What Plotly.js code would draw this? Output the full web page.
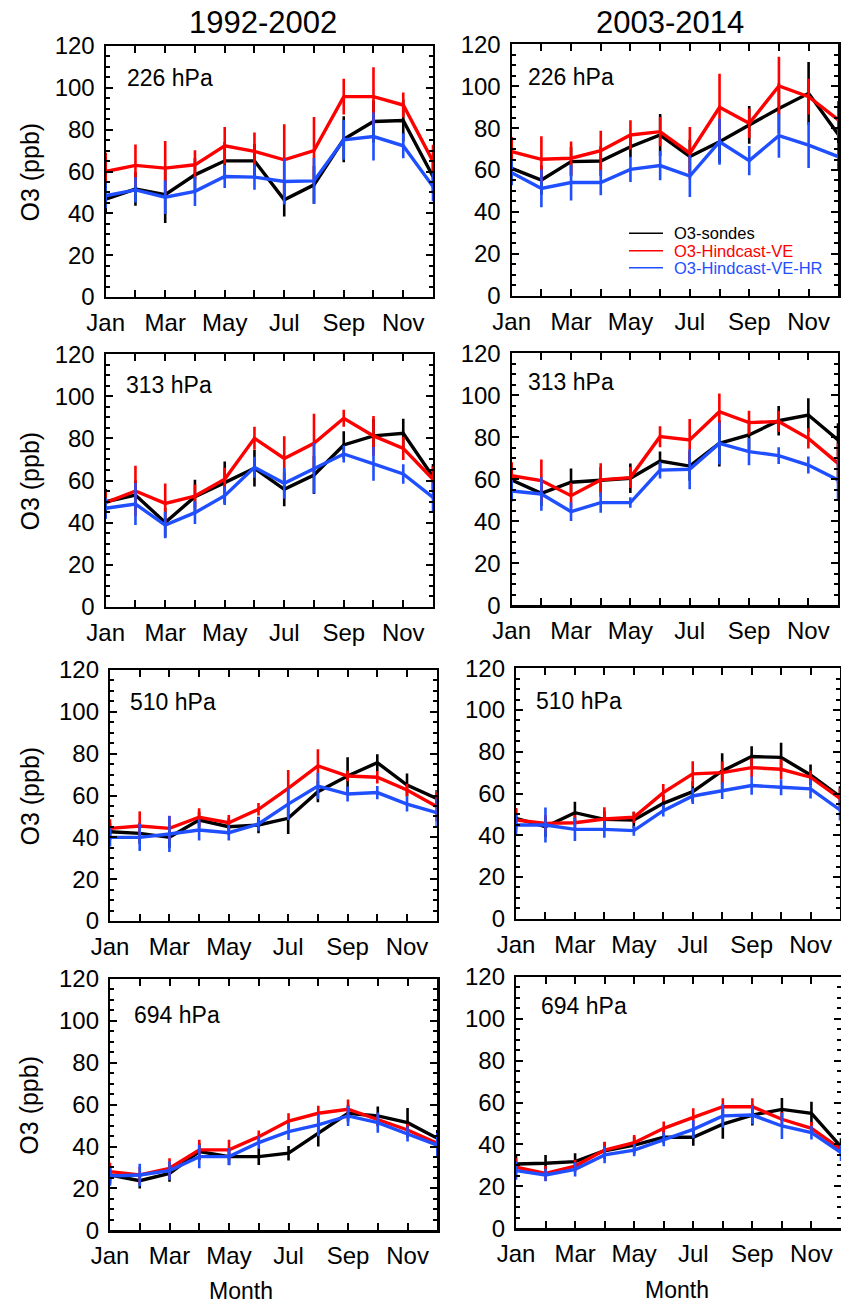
<!DOCTYPE html>
<html>
<head>
<meta charset="utf-8">
<script src="https://cdn.plot.ly/plotly-3.0.1.min.js"></script>
<style>html,body{margin:0;padding:0;background:#fff;}#chart{width:841px;height:1303px;}</style>
</head>
<body>
<div id="chart"></div>
<script>
// ---------------- DATA ----------------
const MONTHS = [1,2,3,4,5,6,7,8,9,10,11,12];
const TICK_POS = [1,3,5,7,9,11];
const TICK_LABELS = ['Jan','Mar','May','Jul','Sep','Nov'];
const PERIODS = ['1992-2002','2003-2014'];
const LEVELS = ['226 hPa','313 hPa','510 hPa','694 hPa'];
const SERIES_NAMES = ['O3-sondes','O3-Hindcast-VE','O3-Hindcast-VE-HR'];

// 226 hPa, 1992-2002
const p226a_sondes     = [46.8,51.6,48.9,58.4,65.1,65.1,46.5,53.6,75.4,83.9,84.4,57.6];
const p226a_sondes_err = [7,8,13.5,8,9,8,8,9,11,10,10,8];
const p226a_ve         = [60.0,62.9,61.6,63.2,72.3,69.6,65.6,70.0,95.8,95.8,91.8,64.8];
const p226a_ve_err     = [9,10,13,7,9,9,17,16,8.5,14,6,8];
const p226a_hr         = [48.4,51.2,47.7,50.5,57.6,57.3,55.2,55.5,75.1,76.7,72.3,52.8];
const p226a_hr_err     = [6,6,8,7,5.5,6,11,11,9.5,11.5,6,7];
// 226 hPa, 2003-2014
const p226b_sondes     = [60.8,55.2,64.0,64.3,71.1,76.7,66.4,73.5,81.5,89.4,96.6,77.0];
const p226b_sondes_err = [7,7,7,7,5,10,8,10,9,12,15,9];
const p226b_ve         = [68.8,65.1,65.6,69.2,76.7,78.3,68.0,89.9,82.3,100.1,95.0,83.9];
const p226b_ve_err     = [7,11,8,9.5,7,7,12.5,16,7,14,8.5,9];
const p226b_hr         = [58.7,51.2,54.0,54.0,60.3,62.1,57.1,73.5,64.5,76.4,71.9,66.4];
const p226b_hr_err     = [6,9,8.5,6,6,7,10,11,7,10.5,11,6.5];
// 313 hPa, 1992-2002
const p313a_sondes     = [49.9,53.1,40.0,52.3,59.0,65.8,55.8,62.6,76.9,81.2,82.4,61.8];
const p313a_sondes_err = [6,7,7,8,10,8.7,8,9,6.5,8,7,6];
const p313a_ve         = [49.5,55.0,49.1,52.6,60.6,80.1,70.5,77.7,89.6,81.2,75.3,60.6];
const p313a_ve_err     = [6,12,9.5,5.5,5.5,5.5,10.5,14,4,9.5,5.5,6];
const p313a_hr         = [46.8,48.8,38.8,44.7,52.8,66.3,58.7,65.8,72.6,67.9,63.1,52.0];
const p313a_hr_err     = [5,10,6.3,5.4,4.4,5,7.4,12,4,8,4.6,7];
// 313 hPa, 2003-2014
const p313b_sondes     = [59.7,53.3,58.6,59.7,60.5,68.7,66.3,77.1,81.1,87.9,90.6,78.7];
const p313b_sondes_err = [5,6,6.6,6,7,4.5,7,11,7,7,8,8];
const p313b_ve         = [61.7,59.4,52.2,59.7,60.8,80.3,78.7,92.2,87.0,87.5,79.5,67.6];
const p313b_ve_err     = [6.4,10,6,8,5,5,10,8.7,5.7,5,4.8,9.5];
const p313b_hr         = [54.4,53.0,44.6,48.9,48.9,64.4,64.8,77.1,73.2,71.3,66.8,59.7];
const p313b_hr_err     = [5,8,4.5,4.8,2.5,4,9.5,10,6.5,4,4,9.7];
// 510 hPa, 1992-2002
const p510a_sondes     = [42.7,41.9,40.0,48.3,45.1,45.9,49.1,61.8,69.3,75.7,65.0,58.6];
const p510a_sondes_err = [4,5,5,4,4,4,7.5,5,9,4,5.5,4];
const p510a_ve         = [44.3,45.4,44.3,49.6,47.0,53.4,63.4,74.1,69.3,68.7,62.6,54.7];
const p510a_ve_err     = [4.3,7,6,4.3,3.7,3,8.8,8,2.5,3,3,7];
const p510a_hr         = [40.0,40.0,41.6,43.5,42.2,46.4,55.9,64.5,60.7,61.4,55.9,51.8];
const p510a_hr_err     = [4.4,6.5,8.6,5,3.7,3.2,7.6,6.2,3.6,3.2,3.6,6.8];
// 510 hPa, 2003-2014
const p510b_sondes     = [48.1,44.1,50.8,47.6,47.3,55.3,60.9,70.8,77.7,77.3,68.9,58.5];
const p510b_sondes_err = [5,5,5.3,4,4,4,5,8.5,5,7,5,5];
const p510b_ve         = [47.3,45.7,46.0,47.8,48.6,60.4,69.4,70.0,72.4,71.6,67.8,57.7];
const p510b_ve_err     = [5.6,4,3.7,5.6,2.7,4.2,6,5.3,4.5,4.8,3.2,5];
const p510b_hr         = [44.9,44.9,42.8,42.8,42.2,51.8,58.8,61.4,63.8,63.0,62.2,52.1];
const p510b_hr_err     = [5.2,8.4,5.6,4,2.4,2.8,3.8,4,4.4,3.8,4.6,5];
// 694 hPa, 1992-2002
const p694a_sondes     = [26.4,23.7,27.2,37.6,35.2,35.2,36.8,46.3,55.9,54.6,51.4,43.9];
const p694a_sondes_err = [4,3.7,4,4,4,4,3.5,6.3,4,4.5,7,4];
const p694a_ve         = [28.0,26.4,29.6,38.4,38.4,44.7,52.2,55.9,57.8,52.7,47.9,41.5];
const p694a_ve_err     = [4.3,4,4.8,4.8,4.8,3,3.7,3.6,4.7,3,3,3];
const p694a_hr         = [25.9,26.4,28.5,35.2,35.2,41.9,47.1,50.3,54.6,51.4,46.0,40.7];
const p694a_hr_err     = [4.6,5.4,4.5,5.6,4.1,3,4,5.4,4.8,4.8,3.6,5.8];
// 694 hPa, 2003-2014
const p694b_sondes     = [30.7,31.0,31.8,37.0,39.7,43.4,43.4,49.7,54.0,56.7,54.8,38.9];
const p694b_sondes_err = [4,4,4,4,4,3,4,7,5,5.5,5.6,4];
const p694b_ve         = [29.1,26.2,29.7,37.3,40.8,47.7,52.9,58.0,58.0,52.0,47.7,37.7];
const p694b_ve_err     = [4.3,3.5,3,4,3.7,3.2,4.3,4,4,3.5,3,3];
const p694b_hr         = [27.5,25.4,28.1,35.0,37.3,42.4,47.2,53.6,54.0,48.8,45.6,36.1];
const p694b_hr_err     = [4.4,3,3.4,4,2.9,3.3,4.2,5.6,4.4,6.2,3.2,4];

// -------------- PANELS --------------
const panelData = [
  [p226a_sondes,p226a_sondes_err,p226a_ve,p226a_ve_err,p226a_hr,p226a_hr_err],
  [p226b_sondes,p226b_sondes_err,p226b_ve,p226b_ve_err,p226b_hr,p226b_hr_err],
  [p313a_sondes,p313a_sondes_err,p313a_ve,p313a_ve_err,p313a_hr,p313a_hr_err],
  [p313b_sondes,p313b_sondes_err,p313b_ve,p313b_ve_err,p313b_hr,p313b_hr_err],
  [p510a_sondes,p510a_sondes_err,p510a_ve,p510a_ve_err,p510a_hr,p510a_hr_err],
  [p510b_sondes,p510b_sondes_err,p510b_ve,p510b_ve_err,p510b_hr,p510b_hr_err],
  [p694a_sondes,p694a_sondes_err,p694a_ve,p694a_ve_err,p694a_hr,p694a_hr_err],
  [p694b_sondes,p694b_sondes_err,p694b_ve,p694b_ve_err,p694b_hr,p694b_hr_err]
];
const W = 841, H = 1303;
// panel boxes in pixels: [left, right, top, bottom]
const boxes = [
  [105.7,433,46,297],[511.7,838.3,44.3,295.7],
  [105.7,433,354.3,606.7],[511.7,838,353.3,605.3],
  [110,436.7,670,921],[516,840,668.3,918.7],
  [110,437.3,979,1230.3],[516,841,976.7,1228.3]
];
const levelLabelPos = [[125,78],[526,77],[124.3,385],[526,382],[128.3,701.7],[534,701],[132.3,1015],[539,1006]];
const COLORS = ['#000000','#ff0000','#1f4fff'];
const FONT = 'Liberation Sans, Arial, Helvetica, sans-serif';

const traces = [];
const layout = {
  width: W, height: H,
  margin: {l:0,r:0,t:0,b:0},
  paper_bgcolor:'#ffffff', plot_bgcolor:'#ffffff',
  showlegend:false,
  font:{family:FONT,color:'#000'},
  annotations:[], shapes:[]
};
const px2x = v => v / W;
const py2y = v => 1 - v / H;

panelData.forEach((d, i) => {
  const n = i + 1;
  const xa = 'x' + (n === 1 ? '' : n), ya = 'y' + (n === 1 ? '' : n);
  for (let s = 0; s < 3; s++) {
    traces.push({
      type:'scatter', mode:'lines', x: MONTHS, y: d[2*s],
      xaxis: xa, yaxis: ya, name: SERIES_NAMES[s],
      line:{color:COLORS[s], width:3.4},
      error_y:{type:'data', array:d[2*s+1], visible:true, width:0, thickness:2.6, color:COLORS[s]},
      hoverinfo:'skip'
    });
  }
  const b = boxes[i];
  const axCommon = {showline:true, linecolor:'#000', linewidth:2.2, mirror:'allticks',
    ticks:'inside', tickcolor:'#000', tickwidth:2, showgrid:false, zeroline:false,
    tickfont:{family:FONT,size:24,color:'#000'}, fixedrange:true};
  layout['xaxis' + (n === 1 ? '' : n)] = Object.assign({}, axCommon, {
    domain:[px2x(b[0]), px2x(b[1])], anchor: ya, range:[1,12],
    tickmode:'array', tickvals:TICK_POS, ticktext:TICK_LABELS, ticklen:7,
    minor:{tickmode:'linear', tick0:1, dtick:1, ticks:'inside', ticklen:7, tickwidth:2, tickcolor:'#000'},
    ticklabelstandoff:3
  });
  layout['yaxis' + (n === 1 ? '' : n)] = Object.assign({}, axCommon, {
    domain:[py2y(b[3]), py2y(b[2])], anchor: xa, range:[0,120],
    tickmode:'linear', tick0:0, dtick:20, ticklen:7,
    minor:{tickmode:'linear', tick0:0, dtick:5, ticks:'inside', ticklen:4, tickwidth:2, tickcolor:'#000'},
    ticklabelstandoff:4
  });
  // level label
  const lp = levelLabelPos[i];
  layout.annotations.push({text: LEVELS[Math.floor(i/2)], xref:'paper', yref:'paper',
    x: px2x(lp[0]), y: py2y(lp[1]), xanchor:'left', yanchor:'middle', showarrow:false,
    font:{family:FONT,size:23,color:'#000'}});
  // y-axis title on left column
  if (i % 2 === 0) {
    layout.annotations.push({text:'O3 (ppb)', xref:'paper', yref:'paper', textangle:-90,
      x: px2x(29), y: py2y((b[2]+b[3])/2 + 1), xanchor:'center', yanchor:'middle', showarrow:false,
      font:{family:FONT,size:25,color:'#000'}});
  }
});

// column titles
layout.annotations.push({text:PERIODS[0], xref:'paper', yref:'paper', x:px2x(263), y:py2y(22),
  xanchor:'center', yanchor:'middle', showarrow:false, font:{family:FONT,size:31,color:'#000'}});
layout.annotations.push({text:PERIODS[1], xref:'paper', yref:'paper', x:px2x(670), y:py2y(22),
  xanchor:'center', yanchor:'middle', showarrow:false, font:{family:FONT,size:31,color:'#000'}});
// x-axis titles
layout.annotations.push({text:'Month', xref:'paper', yref:'paper', x:px2x(241), y:py2y(1291),
  xanchor:'center', yanchor:'middle', showarrow:false, font:{family:FONT,size:23,color:'#000'}});
layout.annotations.push({text:'Month', xref:'paper', yref:'paper', x:px2x(677), y:py2y(1290),
  xanchor:'center', yanchor:'middle', showarrow:false, font:{family:FONT,size:23,color:'#000'}});

// legend (inside top-right panel)
const legRows = [233.3, 250.7, 267.7];
SERIES_NAMES.forEach((nm, s) => {
  layout.shapes.push({type:'line', xref:'paper', yref:'paper',
    x0:px2x(629), x1:px2x(663), y0:py2y(legRows[s]), y1:py2y(legRows[s]),
    line:{color:COLORS[s], width:1.6}});
  layout.annotations.push({text:nm, xref:'paper', yref:'paper', x:px2x(672), y:py2y(legRows[s]),
    xanchor:'left', yanchor:'middle', showarrow:false, font:{family:FONT,size:16.5,color:COLORS[s]}});
});

Plotly.newPlot('chart', traces, layout, {staticPlot:true, displayModeBar:false});
</script>
</body>
</html>
